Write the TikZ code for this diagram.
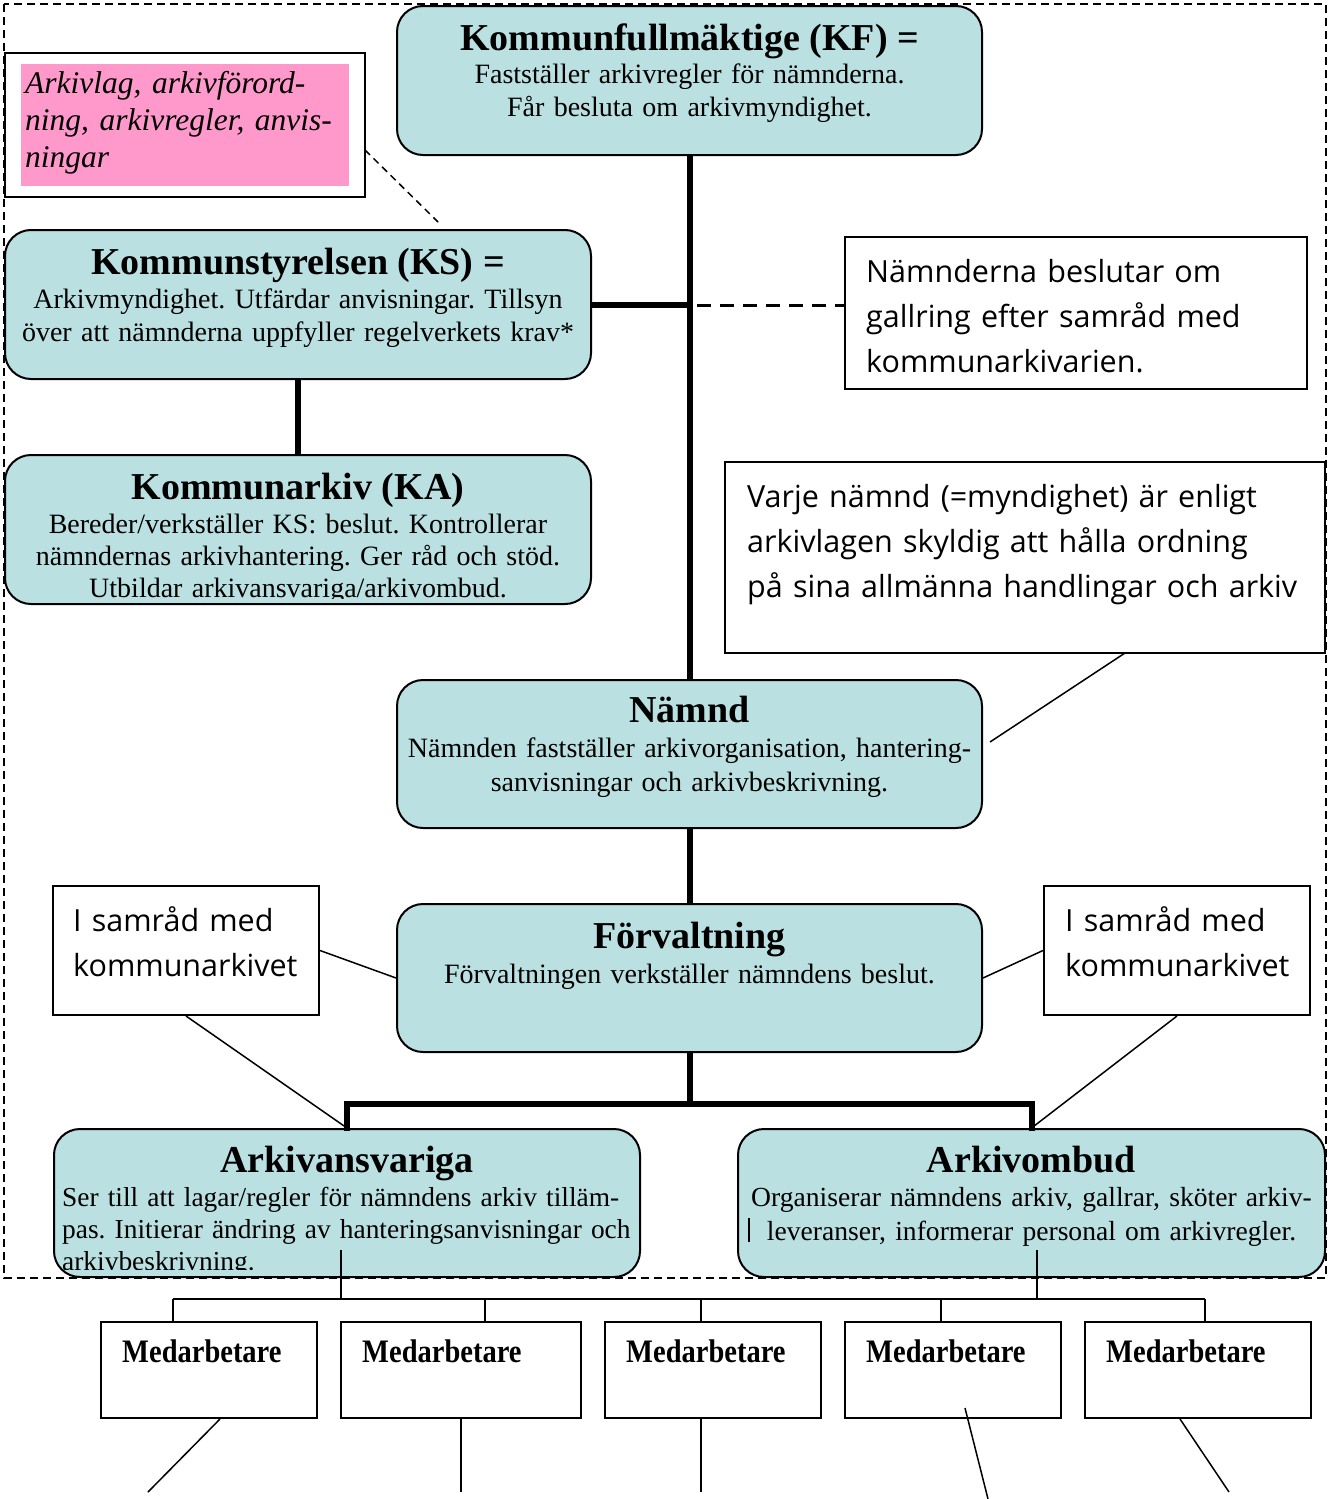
\documentclass[tikz,border=0pt]{standalone}
\usepackage{fontspec}
\setmainfont{Liberation Serif}
\newfontfamily\handfont{Open Sans}
\usetikzlibrary{calc}
\definecolor{boxblue}{RGB}{186,224,226}
\definecolor{notepink}{RGB}{255,153,204}
\frenchspacing
\begin{document}
\begin{tikzpicture}[x=1pt,y=-1pt,
  bluebox/.style={draw=black,line width=2pt,fill=boxblue,rounded corners=26pt,inner sep=0pt},
  notebox/.style={draw=black,line width=2.5pt,fill=white,inner sep=0pt},
  medbox/.style={draw=black,line width=2pt,fill=white,inner sep=0pt},
  titletext/.style={font=\fontsize{38}{44}\selectfont\bfseries,anchor=base,inner sep=0pt},
  bodytext/.style={font=\fontsize{28}{33}\selectfont,anchor=base,inner sep=0pt,text width=580pt,align=center},
  bodyleft/.style={font=\fontsize{27.4}{32}\selectfont,anchor=base west,inner sep=0pt,text width=590pt,align=left},
  handtext/.style={font=\handfont\fontsize{30.5}{45}\selectfont,anchor=base west,inner sep=0pt,text width=590pt,align=left},
  medtext/.style={font=\fontsize{28.5}{32}\selectfont\bfseries,anchor=base west,inner sep=0pt},
  trunkline/.style={line width=6pt},
  thinline/.style={line width=1.5pt},
]
\useasboundingbox (0,0) rectangle (1335,1499);

% outer dashed frame
\draw[line width=1.5pt,dash pattern=on 8pt off 5pt] (4,4) rectangle (1326,1278);

% boxes
\node[bluebox,minimum width=585pt,minimum height=149pt] (kf) at (689.5,80.5) {};
\node[bluebox,minimum width=586pt,minimum height=149pt] (ks) at (298,304.5) {};
\node[bluebox,minimum width=586pt,minimum height=149pt] (ka) at (298,529.5) {};
\node[bluebox,minimum width=585pt,minimum height=148pt] (namnd) at (689.5,754) {};
\node[bluebox,minimum width=585pt,minimum height=148pt] (forv) at (689.5,978) {};
\node[bluebox,minimum width=586pt,minimum height=148pt] (aa) at (347,1203) {};
\node[bluebox,minimum width=587pt,minimum height=148pt] (ao) at (1031.5,1203) {};

\node[notebox,line width=2pt,minimum width=360pt,minimum height=144pt] (pinkout) at (185,125) {};
\node[fill=notepink,minimum width=328pt,minimum height=122pt,inner sep=0pt] (pink) at (185,125) {};

\node[notebox,minimum width=462pt,minimum height=152pt] (note1) at (1076,313) {};
\node[notebox,minimum width=600pt,minimum height=191pt] (note2) at (1025,557.5) {};
\node[notebox,line width=2pt,minimum width=266pt,minimum height=129pt] (sam1) at (186,950.5) {};
\node[notebox,line width=2pt,minimum width=266pt,minimum height=129pt] (sam2) at (1177,950.5) {};

\node[medbox,minimum width=216pt,minimum height=96pt] (m1) at (209,1370) {};
\node[medbox,minimum width=240pt,minimum height=96pt] (m2) at (461,1370) {};
\node[medbox,minimum width=216pt,minimum height=96pt] (m3) at (713,1370) {};
\node[medbox,minimum width=216pt,minimum height=96pt] (m4) at (953,1370) {};
\node[medbox,minimum width=226pt,minimum height=96pt] (m5) at (1198,1370) {};

% thick connectors
\draw[trunkline] (kf.south) -- (namnd.north);
\draw[trunkline] (ks.east) -- (ks.east -| kf.south);
\draw[trunkline] (ks.south) -- (ka.north);
\draw[trunkline] (namnd.south) -- (forv.north);
\coordinate (bus) at (689.5,1104);
\draw[trunkline] (forv.south) -- (bus);
\draw[trunkline,line cap=rect] (bus) -| (aa.north);
\draw[trunkline,line cap=rect] (bus) -| (ao.north);

% dashed connectors
\coordinate (kscon) at (697,305);
\draw[line width=3pt,dash pattern=on 14pt off 9pt] (kscon) -- (note1.west |- kscon);
\coordinate (pd1) at (365,150);
\coordinate (pd2) at (438,222);
\draw[line width=1.5pt,dash pattern=on 7pt off 5pt] (pd1) -- (pd2);

% thin connectors
\coordinate (n2a) at (1125,653);
\coordinate (n2b) at (990,742);
\draw[thinline] (n2a) -- (n2b);
\draw[thinline] (sam1.east) -- (forv.west);
\draw[thinline] (forv.east) -- (sam2.west);
\draw[thinline] (sam1.south) -- (aa.north);
\draw[thinline] (sam2.south) -- (ao.north);

% medarbetare bus
\coordinate (aad) at (341,1250);
\coordinate (aob) at (1037,1250);
\coordinate (busl) at (173,1299);
\coordinate (busr) at (1205,1299);
\coordinate (b2) at (485,1299);
\coordinate (b3) at (701,1299);
\coordinate (b4) at (941,1299);
\draw[thinline] (aad) -- (aad |- busl);
\draw[thinline] (aob) -- (aob |- busl);
\draw[thinline] (busl) -- (busr);
\draw[thinline] (busl) -- (busl |- m1.north);
\draw[thinline] (b2) -- (b2 |- m2.north);
\draw[thinline] (b3) -- (b3 |- m3.north);
\draw[thinline] (b4) -- (b4 |- m4.north);
\draw[thinline] (busr) -- (busr |- m5.north);

% lines below medarbetare
\coordinate (e1) at (148,1492);
\coordinate (e2) at (461,1492);
\coordinate (e3) at (701,1492);
\coordinate (e4) at (988,1499);
\coordinate (e5) at (1229,1492);
\coordinate (s4) at (965,1408);
\draw[thinline] ($(m1.south west)+(120,0)$) -- (e1);
\draw[thinline] (m2.south) -- (e2);
\draw[thinline] (e3 |- m3.south) -- (e3);
\draw[thinline] (s4) -- (e4);
\draw[thinline] ($(m5.south west)+(96,0)$) -- (e5);

% stray bar in Arkivombud
\coordinate (bar1) at (749,1218);
\coordinate (bar2) at (749,1242);
\draw[thinline] (bar1) -- (bar2);

% texts
\node[titletext] (kft) at (689.5,50.5) {Kommunfullmäktige (KF) =};
\node[bodytext] (kfb) at (689.5,83) {Fastställer arkivregler för nämnderna.\\Får besluta om arkivmyndighet.};

\node[titletext] (kst) at (298,274.5) {Kommunstyrelsen (KS) =};
\node[bodytext] (ksb) at (298,308) {Arkivmyndighet. Utfärdar anvisningar. Tillsyn\\över att nämnderna uppfyller regelverkets krav*};

\begin{scope}
\clip (6,456) rectangle (590,598);
\node[titletext] (kat) at (298,499.5) {Kommunarkiv (KA)};
\node[bodytext,font=\fontsize{28}{32}\selectfont] (kab) at (298,533) {Bereder/verkställer KS: beslut. Kontrollerar\\nämndernas arkivhantering. Ger råd och stöd.\\Utbildar arkivansvariga/arkivombud.};
\end{scope}

\node[titletext] (nt) at (689.5,722.5) {Nämnd};
\node[bodytext,text width=585pt,font=\fontsize{28}{34}\selectfont] (nb) at (689.5,757) {Nämnden fastställer arkivorganisation, hantering-\\sanvisningar och arkivbeskrivning.};

\node[titletext] (ft) at (689.5,948.5) {Förvaltning};
\node[bodytext] (fb) at (689.5,983) {Förvaltningen verkställer nämndens beslut.};

\begin{scope}
\clip (55,1130) rectangle (639,1269);
\node[titletext] (aat) at (347,1172.5) {Arkivansvariga};
\node[bodyleft] (aab) at (62,1206) {Ser till att lagar/regler för nämndens arkiv tilläm-\\pas. Initierar ändring av hanteringsanvisningar och\\arkivbeskrivning.};
\end{scope}

\node[titletext] (aot) at (1031.5,1172.5) {Arkivombud};
\node[bodytext,text width=587pt,font=\fontsize{27.6}{34}\selectfont] (aob2) at (1031.5,1206) {Organiserar nämndens arkiv, gallrar, sköter arkiv-\\leveranser, informerar personal om arkivregler.};

\node[font=\fontsize{31.5}{37}\selectfont\itshape,anchor=base west,inner sep=0pt,text width=330pt,align=left] (pinkt) at (25,93) {Arkivlag, arkivförord-\\ning, arkivregler, anvis-\\ningar};

\node[handtext] (n1t) at (866,282) {Nämnderna beslutar om\\gallring efter samråd med\\kommunarkivarien.};
\node[handtext] (n2t) at (747,507) {Varje nämnd (=myndighet) är enligt\\arkivlagen skyldig att hålla ordning\\på sina allmänna handlingar och arkiv};
\node[handtext] (s1t) at (73,931) {I samråd med\\kommunarkivet};
\node[handtext] (s2t) at (1065,931) {I samråd med\\kommunarkivet};

\node[medtext] (m1t) at (122,1362) {\scalebox{1}[1.15]{Medarbetare}};
\node[medtext] (m2t) at (362,1362) {\scalebox{1}[1.15]{Medarbetare}};
\node[medtext] (m3t) at (626,1362) {\scalebox{1}[1.15]{Medarbetare}};
\node[medtext] (m4t) at (866,1362) {\scalebox{1}[1.15]{Medarbetare}};
\node[medtext] (m5t) at (1106,1362) {\scalebox{1}[1.15]{Medarbetare}};
\end{tikzpicture}
\end{document}
